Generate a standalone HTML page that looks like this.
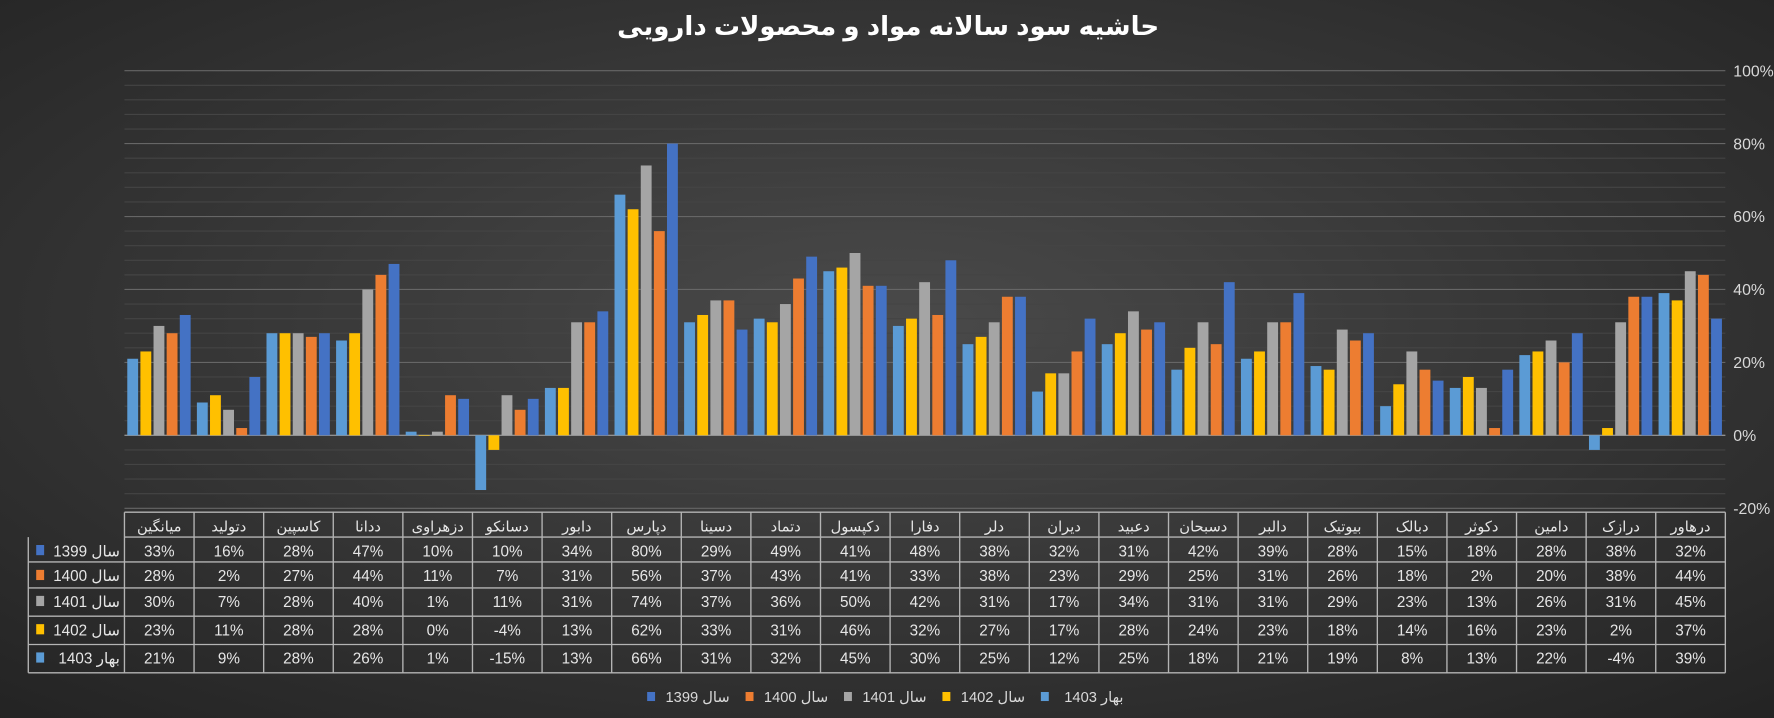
<!DOCTYPE html>
<html><head><meta charset="utf-8">
<style>
html,body{margin:0;padding:0;background:#2b2b2b;}
svg{display:block;}
text{font-family:"Liberation Sans","DejaVu Sans",sans-serif;}
</style></head>
<body>
<svg id="c" width="1774" height="718" viewBox="0 0 1568 635" preserveAspectRatio="none" xmlns="http://www.w3.org/2000/svg">
<defs>
<radialGradient id="bg" cx="50%" cy="45%" r="75%">
<stop offset="0" stop-color="#4a4a4a"/>
<stop offset="1" stop-color="#232323"/>
</radialGradient>
</defs>
<rect width="1568" height="635" fill="url(#bg)"/>
<text x="785" y="31" text-anchor="middle" font-size="23" font-weight="bold" fill="#fff" direction="rtl">حاشیه سود سالانه مواد و محصولات دارویی</text>
<g id="g"></g>
</svg>
<script>
const names=["میانگین","دتولید","کاسپین","ددانا","دزهراوی","دسانکو","دابور","دپارس","دسینا","دتماد","دکپسول","دفارا","دلر","دیران","دعبید","دسبحان","دالبر","بیوتیک","دبالک","دکوثر","دامین","درازک","درهاور"];
const rows=[
["سال 1399","#4472c4",[33,16,28,47,10,10,34,80,29,49,41,48,38,32,31,42,39,28,15,18,28,38,32]],
["سال 1400","#ed7d31",[28,2,27,44,11,7,31,56,37,43,41,33,38,23,29,25,31,26,18,2,20,38,44]],
["سال 1401","#a5a5a5",[30,7,28,40,1,11,31,74,37,36,50,42,31,17,34,31,31,29,23,13,26,31,45]],
["سال 1402","#ffc000",[23,11,28,28,0,-4,13,62,33,31,46,32,27,17,28,24,23,18,14,16,23,2,37]],
["بهار 1403","#5b9bd5",[21,9,28,26,1,-15,13,66,31,32,45,30,25,12,25,18,21,19,8,13,22,-4,39]]];
let s="";
const X0=110,X1=1525,CW=(X1-X0)/23;
const Y=v=>385-v*3.225;
for(let v=-20;v<=100;v+=4){const y=Y(v);const maj=v%20==0;
 s+=`<line x1="${X0}" x2="${X1}" y1="${y}" y2="${y}" stroke="${maj?'#666':'#444'}" stroke-width="1"/>`;
 if(maj)s+=`<text x="1532" y="${y+5}" font-size="14" fill="#d9d9d9">${v}%</text>`;}
s+=`<line x1="${X0}" x2="${X1}" y1="${Y(0)}" y2="${Y(0)}" stroke="#999" stroke-width="1"/>`;
const order=[4,3,2,1,0];
for(let i=0;i<23;i++){const cx=X0+i*CW;
 order.forEach((r,k)=>{const v=rows[r][2][i];const x=cx+2.5+k*11.6;const y0=Y(0),y=Y(v);
  s+=`<rect x="${x}" y="${Math.min(y,y0)}" width="9.6" height="${Math.max(Math.abs(y-y0),0.5)}" fill="${rows[r][1]}"/>`;});}
const TY=[453,475,497,520,545,570,595];
for(let i=0;i<23;i++){const cx=X0+i*CW;
 s+=`<text x="${cx+CW/2}" y="470" text-anchor="middle" font-size="13" fill="#e6e6e6" direction="rtl">${names[i]}</text>`;
 for(let r=0;r<5;r++){s+=`<text x="${cx+CW/2}" y="${TY[r+1]+17}" text-anchor="middle" font-size="13.5" fill="#e6e6e6">${rows[r][2][i]}%</text>`;}}
for(let r=0;r<5;r++){const y=TY[r+1];
 s+=`<rect x="32" y="${y+7}" width="7" height="9" fill="${rows[r][1]}"/>`;
 s+=`<text x="106" y="${y+17}" text-anchor="start" direction="rtl" font-size="13.5" fill="#e6e6e6">${rows[r][0]}</text>`;}
const st='stroke="#b4b4b4" stroke-width="1.2" fill="none"';
s+=`<line x1="${X0}" x2="${X1}" y1="453" y2="453" ${st}/>`;
for(let k=1;k<TY.length;k++)s+=`<line x1="${k==1?X0:25}" x2="${X1}" y1="${TY[k]}" y2="${TY[k]}" ${st}/>`;
s+=`<line x1="25" x2="25" y1="475" y2="595" ${st}/>`;
for(let i=0;i<=23;i++){const x=X0+i*CW;s+=`<line x1="${x}" x2="${x}" y1="453" y2="595" ${st}/>`;}
let lx=572;
rows.forEach((r,k)=>{s+=`<rect x="${lx}" y="612" width="7" height="8" fill="${r[1]}"/>`;
 s+=`<text x="${lx+73}" y="621" direction="rtl" font-size="13" fill="#d9d9d9">${r[0]}</text>`;lx+=87;});
document.getElementById("g").innerHTML=s;
</script>
</body></html>
